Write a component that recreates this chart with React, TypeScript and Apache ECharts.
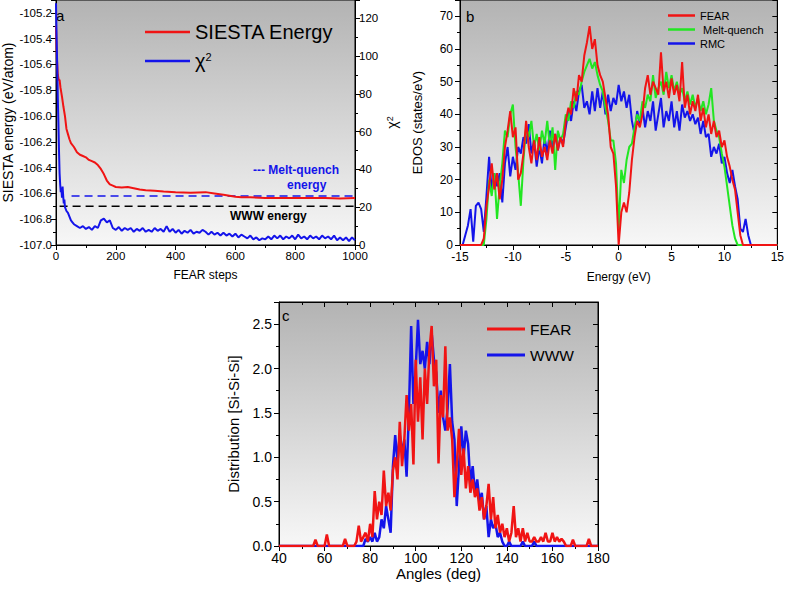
import { useEffect, useRef } from 'react';
import * as echarts from 'echarts';

const FONT = '"Liberation Sans", Arial, sans-serif';
const RED = '#f01414';
const BLUE = '#1414ea';
const GREEN = '#22e622';

// panel a: SIESTA energy and chi^2 vs FEAR steps
const energySteps = [0, 3, 6, 9, 12, 15, 20, 25, 30, 35, 40, 45, 50, 60, 70, 80, 90, 100, 110, 120, 130, 140, 150, 160, 170, 180, 190, 200, 220, 240, 260, 280, 300, 330, 360, 400, 450, 500, 530, 560, 600, 620, 650, 700, 750, 800, 850, 900, 950, 1000];
const energyVals = [-105.3, -105.55, -105.68, -105.72, -105.72, -105.78, -105.85, -105.93, -106.0, -106.1, -106.14, -106.18, -106.21, -106.24, -106.28, -106.3, -106.31, -106.32, -106.34, -106.35, -106.36, -106.38, -106.41, -106.45, -106.5, -106.53, -106.54, -106.55, -106.555, -106.55, -106.56, -106.57, -106.575, -106.58, -106.585, -106.59, -106.595, -106.59, -106.6, -106.61, -106.625, -106.63, -106.63, -106.635, -106.635, -106.635, -106.635, -106.635, -106.64, -106.635];

const chiSteps = [0, 2, 4, 6, 8, 10, 12, 14, 16, 18, 20, 22, 24, 26, 28, 30, 35, 40, 45, 50, 55, 60, 70, 80, 90, 100, 110, 120, 130, 140, 150, 160, 170, 180, 190, 200, 210, 220, 230, 240, 250, 260, 270, 280, 290, 300, 310, 320, 330, 340, 350, 360, 370, 380, 390, 400, 410, 420, 430, 440, 450, 460, 470, 480, 490, 500, 510, 520, 530, 540, 550, 560, 570, 580, 590, 600, 610, 620, 630, 640, 650, 660, 670, 680, 690, 700, 710, 720, 730, 740, 750, 760, 770, 780, 790, 800, 810, 820, 830, 840, 850, 860, 870, 880, 890, 900, 910, 920, 930, 940, 950, 960, 970, 980, 990, 1000];
const chiVals = [128, 110, 95, 78, 65, 50, 38, 32, 28, 30, 25, 31, 26, 22, 24, 20, 18, 17, 15, 13, 12, 11, 10, 9, 10, 8.5, 9.5, 8, 10, 9, 13, 14, 12, 13, 9, 8, 9.5, 7.5, 9, 8, 9, 7, 8.5, 7.5, 9, 7, 8, 7, 9, 7.5, 8.5, 7, 10, 7, 8.5, 6.5, 8, 6, 7.5, 6.5, 8, 6, 7, 6.5, 8, 7, 5.5, 7, 5.5, 6.5, 5, 6.5, 5, 6, 4.5, 6, 4, 5.5, 4.5, 3.5, 5, 3, 4, 2.5, 3.5, 3, 4.5, 3, 5, 3.5, 5, 3, 4.5, 3.5, 5, 3, 5.5, 3.5, 4.5, 3, 5, 3.5, 4.5, 3, 5, 3.5, 4.5, 3, 5, 2.5, 4, 2.5, 4, 2, 4, 2.5];

const meltQuenchEnergy = -106.62;
const wwwEnergy = -106.7;
const meltQuenchFrom = 52;
const wwwFrom = 12;

// panel b: EDOS, energy grid -15..15 eV every 0.25 eV
const EDOS_START = -15;
const EDOS_STEP = 0.25;
const edosFear = [0, 0, 0, 0, 0, 0, 0, 0, 0, 2,
  12, 18, 25, 17, 22, 14, 20, 30, 35, 41,
  33, 36, 20, 22, 28, 38, 30, 25, 32, 26,
  33, 27, 30, 26, 32, 28, 34, 29, 33, 30,
  38, 42, 40, 48, 44, 52, 50, 58, 62, 67,
  60, 63, 55, 52, 50, 45, 40, 30, 28, 18,
  0, 10, 13, 10, 16, 26, 33, 38, 36, 40,
  48, 52, 46, 50, 48, 46, 59, 47, 50, 45,
  51, 46, 49, 44, 56, 42, 46, 40, 44, 41,
  46, 38, 42, 36, 40, 34, 38, 33, 35, 30,
  32, 27, 24, 20, 17, 10, 3, 0,
  0, 0, 0, 0, 0, 0, 0, 0, 0, 0, 0, 0, 0];
const edosMelt = [0, 0, 0, 0, 0, 0, 0, 0, 0, 0,
  8, 20, 15, 22, 8, 18, 25, 35, 33, 40,
  43, 30, 22, 12, 26, 36, 33, 38, 30, 34,
  29, 35, 31, 38, 30, 36, 23, 35, 32, 34,
  40, 38, 44, 42, 47, 46, 50, 53, 55, 57,
  54, 56, 52, 49, 47, 42, 38, 32, 32, 25,
  5, 23, 19, 26, 30, 31, 36, 40, 38, 44,
  42, 46, 44, 52, 45, 48, 50, 46, 53, 48,
  52, 47, 50, 46, 48, 44, 47, 43, 46, 42,
  45, 41, 44, 40, 43, 48, 38, 35, 33, 28,
  24, 18, 12, 6, 2, 0,
  0, 0, 0, 0, 0, 0, 0, 0, 0, 0, 0, 0, 0, 0, 0];
const edosRmc = [0, 0,
  3, 6, 11, 1, 12, 13, 11, 4,
  15, 27, 17, 22, 18, 22, 13, 25, 30, 21,
  27, 23, 30, 28, 33, 31, 37, 28, 32, 24,
  30, 25, 33, 28, 35, 30, 34, 29, 33, 31,
  36, 41, 38, 44, 41, 47, 49, 42, 44, 40,
  47, 41, 48, 42, 47, 40, 46, 41, 45, 43,
  49, 44, 47, 42, 46, 38, 34, 41, 37, 42,
  36, 41, 38, 44, 35, 40, 45, 36, 41, 38,
  44, 36, 41, 35, 43, 39, 41, 38, 40, 37,
  39, 34, 38, 33, 34, 27, 30, 28, 31, 25,
  27, 22, 19, 23, 18, 14, 5, 4, 8, 3, 0,
  0, 0, 0, 0, 0, 0, 0, 0, 0, 0];

// panel c: Si-Si-Si bond angle distribution, 40..180 deg every 1 deg
const ANG_START = 40;
const ANG_STEP = 1;
const angFear = [0, 0, 0, 0, 0, 0, 0, 0, 0, 0, 0, 0, 0, 0, 0, 0,
  0.07, 0, 0, 0, 0, 0.13, 0, 0, 0, 0,
  0, 0, 0, 0.08, 0, 0, 0, 0, 0.05, 0.23,
  0.05, 0.1, 0.15, 0.05, 0.25, 0.1, 0.62, 0.3, 0.5, 0.35,
  0.85, 0.45, 0.6, 0.4, 0.85, 1.0, 0.75, 1.4, 0.9, 1.2,
  1.7, 1.3, 1.6, 0.92, 2.1, 1.4, 1.9, 1.2, 2.0, 1.6,
  2.2, 2.48, 1.8, 2.1, 0.93, 1.7, 1.45, 2.25, 1.3, 1.45,
  1.2, 0.55, 0.9, 1.32, 0.8, 1.1, 0.65, 0.9, 0.6, 0.75,
  0.55, 0.65, 0.4, 0.55, 0.3, 0.45, 0.7, 0.3, 0.55, 0.2,
  0.35, 0.15, 0.25, 0.1, 0.2, 0.05, 0.15, 0.45, 0.1, 0.2,
  0.05, 0.2, 0.05, 0.15, 0.05, 0.05, 0.1, 0.05, 0.05, 0.1,
  0.05, 0.15, 0.05, 0.05, 0.15, 0.05, 0.1, 0.05, 0.08, 0.05,
  0, 0, 0, 0.07, 0, 0, 0, 0, 0, 0,
  0.08, 0, 0, 0, 0];
const angWww = [0, 0, 0, 0, 0, 0, 0, 0, 0, 0, 0, 0, 0, 0, 0, 0, 0, 0, 0, 0,
  0, 0, 0, 0, 0, 0, 0, 0, 0, 0, 0, 0, 0, 0, 0, 0, 0, 0,
  0.08, 0.05, 0.1, 0.05, 0.15, 0.05, 0.1, 0.3, 0.2, 0.45,
  0.3, 0.15, 0.9, 1.25, 0.95, 1.25, 1.05, 1.2, 0.78, 1.5,
  2.48, 1.6, 2.0, 2.55, 2.05, 2.2, 2.0, 2.3, 2.05, 2.4,
  2.1, 1.95, 1.5, 1.75, 1.45, 1.3, 1.55, 2.05, 1.4, 1.2,
  0.45, 0.9, 1.35, 1.0, 1.3, 1.15, 0.7, 0.9, 0.6, 0.75,
  0.5, 0.6, 0.3, 0.45, 0.1, 0.3, 0.2, 0.25, 0.1, 0.15,
  0.05, 0, 0, 0.05, 0, 0, 0, 0, 0, 0.05,
  0, 0, 0, 0, 0.05,
  0, 0, 0, 0, 0, 0, 0, 0, 0, 0, 0, 0, 0, 0, 0, 0, 0, 0, 0, 0, 0, 0, 0, 0, 0, 0, 0, 0];

const pairs = (xs: number[], ys: number[]) => ys.map((y, i) => [xs[i], y]);
const gridded = (start: number, step: number, ys: number[]) => ys.map((y, i) => [start + i * step, y]);

const bg = () =>
  new echarts.graphic.LinearGradient(0, 0, 0, 1, [
    { offset: 0, color: '#b3b3b3' },
    { offset: 1, color: '#f7f7f7' },
  ]);

const axisBase = (fontSize: number, margin: number) => ({
  type: 'value' as const,
  axisLine: { show: true, onZero: false, lineStyle: { color: '#000', width: 1 } },
  axisTick: { show: true, length: 5, lineStyle: { color: '#000' } },
  minorTick: { show: true, splitNumber: 2, length: 3, lineStyle: { color: '#000' } },
  splitLine: { show: false },
  axisLabel: { color: '#000', fontSize, fontFamily: FONT, margin, formatter: (v: number) => String(v) },
  nameTextStyle: { color: '#000', fontFamily: FONT },
});

const mirror = (gridIndex: number, position: string, min: number, max: number, interval: number) => ({
  type: 'value' as const,
  gridIndex,
  position,
  min,
  max,
  interval,
  axisLine: { show: true, onZero: false, lineStyle: { color: '#000', width: 1 } },
  axisTick: { show: true, inside: true, length: 5, lineStyle: { color: '#000' } },
  minorTick: { show: true, splitNumber: 2, length: 3, lineStyle: { color: '#000' } },
  splitLine: { show: false },
  axisLabel: { show: false },
});

export default function App() {
  const chartRef = useRef<HTMLDivElement>(null);

  useEffect(() => {
    if (!chartRef.current) return;
    const chart = echarts.init(chartRef.current, undefined, { renderer: 'svg' });
    const line = (name: string, data: number[][], color: string, width: number, xAxisIndex: number, yAxisIndex: number) => ({
      name,
      type: 'line',
      data,
      xAxisIndex,
      yAxisIndex,
      symbol: 'none',
      lineStyle: { color, width },
      itemStyle: { color },
    });

    chart.setOption({
      animation: false,
      textStyle: { fontFamily: FONT },
      grid: [
        { left: 51, top: 0, width: 304, height: 245, show: true, backgroundColor: bg(), borderColor: '#000', borderWidth: 1 },
        { left: 460, top: 0, width: 320, height: 245, show: true, backgroundColor: bg(), borderColor: '#000', borderWidth: 1 },
        { left: 279, top: 302, width: 319, height: 244, show: true, backgroundColor: bg(), borderColor: '#000', borderWidth: 1 },
      ],
      xAxis: [
        { ...axisBase(11.5, 5), gridIndex: 0, min: 0, max: 1000, interval: 200, name: 'FEAR steps', nameLocation: 'middle', nameGap: 24, nameTextStyle: { color: '#000', fontFamily: FONT, fontSize: 12 } },
        { ...axisBase(12, 6), gridIndex: 1, min: -15, max: 15, interval: 5, name: 'Energy (eV)', nameLocation: 'middle', nameGap: 26, nameTextStyle: { color: '#000', fontFamily: FONT, fontSize: 12 } },
        { ...axisBase(14, 5), gridIndex: 2, min: 40, max: 180, interval: 20, name: 'Angles (deg)', nameLocation: 'middle', nameGap: 18, nameTextStyle: { color: '#000', fontFamily: FONT, fontSize: 15 } },
        mirror(2, 'top', 40, 180, 20),
      ],
      yAxis: [
        {
          ...axisBase(11.5, 4), gridIndex: 0, position: 'left', min: -107, max: -105.1, interval: 0.2,
          axisLabel: { color: '#000', fontSize: 11.5, fontFamily: FONT, margin: 4, showMaxLabel: false, formatter: (v: number) => v.toFixed(1) },
          name: 'SIESTA energy (eV/atom)', nameLocation: 'middle', nameGap: 41, nameTextStyle: { color: '#000', fontFamily: FONT, fontSize: 14 },
        },
        {
          ...axisBase(11.5, 4), gridIndex: 0, position: 'right', min: 0, max: 129.7, interval: 20,
          axisLabel: { color: '#000', fontSize: 11.5, lineHeight: 11, fontFamily: FONT, margin: 4, showMaxLabel: false },
          name: '{c|χ}{s|2}', nameLocation: 'middle', nameGap: 30,
          nameTextStyle: { color: '#000', fontFamily: FONT, rich: { c: { fontSize: 14, fontFamily: FONT }, s: { fontSize: 9, fontFamily: FONT, verticalAlign: 'top', lineHeight: 10 } } },
        },
        {
          ...axisBase(12, 7), gridIndex: 1, position: 'left', min: 0, max: 75, interval: 10,
          axisLabel: { color: '#000', fontSize: 12, fontFamily: FONT, margin: 7, showMaxLabel: false },
          name: 'EDOS (states/eV)', nameLocation: 'middle', nameGap: 36, nameTextStyle: { color: '#000', fontFamily: FONT, fontSize: 13 },
        },
        mirror(1, 'right', 0, 75, 10),
        {
          ...axisBase(14, 7), gridIndex: 2, position: 'left', min: 0, max: 2.75, interval: 0.5,
          axisLabel: { color: '#000', fontSize: 14, fontFamily: FONT, margin: 7, showMaxLabel: false, formatter: (v: number) => v.toFixed(1) },
          name: 'Distribution [Si-Si-Si]', nameLocation: 'middle', nameGap: 38, nameTextStyle: { color: '#000', fontFamily: FONT, fontSize: 15 },
        },
        mirror(2, 'right', 0, 2.75, 0.5),
      ],
      legend: [
        {
          data: ['SIESTA Energy', 'χ2'], orient: 'vertical', left: 145, top: 22, padding: 0, icon: 'rect', itemWidth: 45, itemHeight: 2.5, itemGap: 9,
          textStyle: { color: '#000', fontSize: 20, fontFamily: FONT, rich: { c: { fontSize: 20, fontFamily: FONT }, s: { fontSize: 11, fontFamily: FONT, verticalAlign: 'top', lineHeight: 12 } } },
          formatter: (n: string) => (n === 'χ2' ? '{c|χ}{s|2}' : n),
        },
        {
          data: ['FEAR', 'Melt-quench', 'RMC'], orient: 'vertical', left: 668, top: 10, padding: 0, icon: 'rect', itemWidth: 27, itemHeight: 2.5, itemGap: 3,
          textStyle: { color: '#000', fontSize: 11, fontFamily: FONT },
          formatter: (n: string) => (n === 'Melt-quench' ? ' ' + n : n),
        },
        {
          data: ['FEAR', 'WWW'], orient: 'vertical', left: 487, top: 321, padding: 0, icon: 'rect', itemWidth: 38, itemHeight: 3, itemGap: 10,
          textStyle: { color: '#000', fontSize: 15.5, fontFamily: FONT },
        },
      ],
      graphic: [
        { type: 'text', left: 56, top: 8, style: { text: 'a', fontSize: 15, fontFamily: FONT, fill: '#000' } },
        { type: 'text', left: 466, top: 9, style: { text: 'b', fontSize: 15, fontFamily: FONT, fill: '#000' } },
        { type: 'text', left: 282, top: 308, style: { text: 'c', fontSize: 15, fontFamily: FONT, fill: '#000' } },
        { type: 'text', left: 253, top: 164, style: { text: '--- Melt-quench', fontSize: 12, fontWeight: 'bold', fontFamily: FONT, fill: BLUE } },
        { type: 'text', left: 287, top: 179, style: { text: 'energy', fontSize: 12, fontWeight: 'bold', fontFamily: FONT, fill: BLUE } },
        { type: 'text', left: 230, top: 210, style: { text: 'WWW energy', fontSize: 12, fontWeight: 'bold', fontFamily: FONT, fill: '#000' } },
      ],
      series: [
        { ...line('melt-quench ref', [[meltQuenchFrom, meltQuenchEnergy], [1000, meltQuenchEnergy]], BLUE, 1.6, 0, 0), lineStyle: { color: BLUE, width: 1.6, type: [8, 5] } },
        { ...line('www ref', [[wwwFrom, wwwEnergy], [1000, wwwEnergy]], '#000', 1.6, 0, 0), lineStyle: { color: '#000', width: 1.6, type: [8, 5] } },
        line('SIESTA Energy', pairs(energySteps, energyVals), RED, 2, 0, 0),
        line('χ2', pairs(chiSteps, chiVals), BLUE, 2, 0, 1),
        line('RMC', gridded(EDOS_START, EDOS_STEP, edosRmc), BLUE, 2, 1, 2),
        line('Melt-quench', gridded(EDOS_START, EDOS_STEP, edosMelt), GREEN, 2, 1, 2),
        line('FEAR', gridded(EDOS_START, EDOS_STEP, edosFear), RED, 2, 1, 2),
        line('WWW', gridded(ANG_START, ANG_STEP, angWww), BLUE, 2.5, 2, 4),
        line('FEAR', gridded(ANG_START, ANG_STEP, angFear), RED, 2.5, 2, 4),
      ],
    });

    return () => {
      chart.dispose();
    };
  }, []);

  return <div ref={chartRef} style={{ position: 'absolute', left: 0, top: 0, width: 787, height: 591 }} />;
}
